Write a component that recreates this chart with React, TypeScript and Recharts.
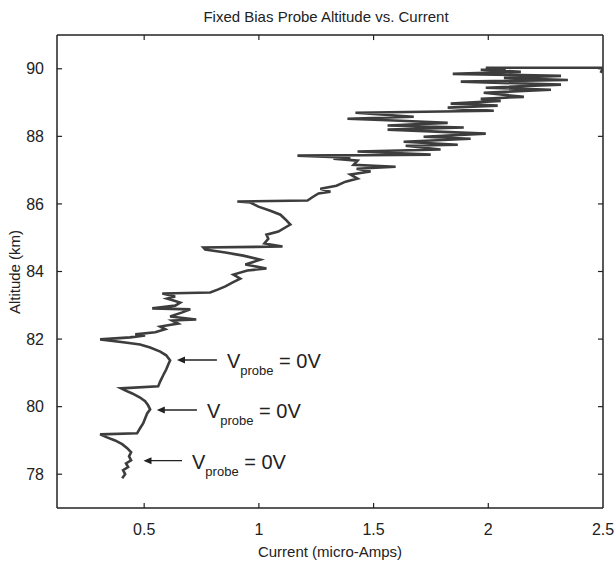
import React from 'react';
import { LineChart, Line, XAxis, YAxis, ReferenceLine } from 'recharts';

// probe trace (current in micro-amps, altitude in km)
const CURRENT = [
  0.404, 0.417, 0.408, 0.43, 0.421, 0.443, 0.434, 0.443, 0.426, 0.404, 0.373, 0.338, 0.308,
  0.469, 0.482, 0.496, 0.504, 0.513, 0.526, 0.517, 0.504, 0.482, 0.448, 0.417, 0.399,
  0.561, 0.57, 0.583, 0.596, 0.605, 0.613, 0.596, 0.57, 0.526, 0.482, 0.417, 0.308,
  0.439, 0.504, 0.461, 0.548, 0.592, 0.57, 0.648, 0.622, 0.727, 0.613, 0.666, 0.701, 0.535,
  0.635, 0.657, 0.6, 0.635, 0.579, 0.788, 0.823, 0.854, 0.884, 0.919, 0.889, 0.95, 1.033,
  0.941, 1.006, 0.932, 0.854, 0.766, 0.758, 1.103, 1.024, 1.041, 1.033, 1.085, 1.137, 1.116,
  1.094, 1.05, 0.998, 0.963, 0.906, 1.212, 1.238, 1.26, 1.312, 1.268, 1.338, 1.378, 1.43,
  1.399, 1.487, 1.426, 1.596, 1.413, 1.43, 1.325, 1.399, 1.168, 1.749, 1.43, 1.792, 1.64,
  1.867, 1.631, 1.923, 1.718, 1.989, 1.561, 1.893, 1.561, 1.823, 1.618, 1.386, 1.675, 1.421,
  2.024, 1.823, 2.041, 1.836, 2.054, 1.967, 2.155, 1.98, 2.273, 1.989, 2.317, 1.88, 2.347,
  2.068, 2.317, 1.845, 2.142, 1.967, 2.076, 1.989, 2.5, 2.49,
];
const ALTITUDE = [
  77.88, 78.0, 78.12, 78.21, 78.32, 78.41, 78.53, 78.65, 78.77, 78.89, 79.0, 79.09, 79.18,
  79.21, 79.36, 79.51, 79.65, 79.8, 79.92, 80.04, 80.16, 80.27, 80.39, 80.48, 80.54,
  80.6, 80.75, 80.93, 81.1, 81.25, 81.37, 81.52, 81.63, 81.75, 81.84, 81.9, 81.99,
  82.05, 82.11, 82.14, 82.2, 82.29, 82.37, 82.46, 82.55, 82.58, 82.67, 82.79, 82.88, 82.91,
  82.99, 83.08, 83.2, 83.26, 83.35, 83.38, 83.47, 83.56, 83.67, 83.79, 83.91, 84.03, 84.09,
  84.21, 84.35, 84.47, 84.56, 84.65, 84.71, 84.74, 84.83, 84.97, 85.09, 85.18, 85.39, 85.54,
  85.68, 85.8, 85.92, 86.04, 86.07, 86.1, 86.22, 86.31, 86.36, 86.45, 86.54, 86.66, 86.75,
  86.87, 86.96, 87.04, 87.1, 87.16, 87.28, 87.34, 87.37, 87.43, 87.46, 87.55, 87.61, 87.72,
  87.75, 87.84, 87.93, 87.99, 88.08, 88.2, 88.26, 88.32, 88.4, 88.46, 88.52, 88.58, 88.7,
  88.76, 88.85, 88.91, 88.97, 89.05, 89.11, 89.17, 89.29, 89.38, 89.44, 89.53, 89.62, 89.67,
  89.73, 89.79, 89.85, 89.91, 89.97, 90.0, 90.03, 90.03, 89.88,
];

const X_TICKS = [0.5, 1, 1.5, 2, 2.5];
const Y_TICKS = [78, 80, 82, 84, 86, 88, 90];

// arrows for the three "V probe = 0V" notes: [altitude, tail current, head current]
const NOTE_ALT = [81.38, 79.9, 78.4];
const NOTE_TAIL = [0.817, 0.73, 0.665];
const NOTE_HEAD = [0.643, 0.555, 0.497];

const X_MIN = 0.12;
const X_MAX = 2.5;
const Y_MIN = 77;
const Y_MAX = 91;

const FONT = '"Liberation Sans Narrow", "Liberation Sans", Arial, sans-serif';
const INK = '#222';

const data = CURRENT.map((c, i) => ({ c, a: ALTITUDE[i] }));

const NoteArrow = (props: any) => {
  const { x1, y1, x2, y2 } = props;
  const dir = x2 < x1 ? -1 : 1;
  return (
    <g>
      <line x1={x1} y1={y1} x2={x2 - dir * 6} y2={y2} stroke={INK} strokeWidth={1.3} />
      <path d={`M${x2},${y2} L${x2 - dir * 8},${y2 - 3.5} L${x2 - dir * 8},${y2 + 3.5} Z`} fill={INK} />
      <text x={x1 + 10} y={y1 + 8} fontFamily={FONT} fontSize={20} fill={INK}>
        V
        <tspan fontSize={13} dy={7}>probe</tspan>
        <tspan fontSize={20} dy={-7}> = 0V</tspan>
      </text>
    </g>
  );
};

export default function App() {
  return (
    <div style={{ position: 'absolute', left: 0, top: 0, width: 616, height: 562, background: '#fff' }}>
      <LineChart
        width={616}
        height={562}
        data={data}
        margin={{ top: 35, right: 13, left: 7, bottom: 14 }}
      >
        <XAxis
          type="number"
          dataKey="c"
          domain={[X_MIN, X_MAX]}
          ticks={X_TICKS}
          allowDataOverflow
          tickLine={false}
          tickSize={6}
          tickMargin={10}
          height={40}
          axisLine={{ stroke: INK, strokeWidth: 1.5 }}
          tick={{ fontSize: 16, fill: INK, fontFamily: FONT }}
          tickFormatter={(v: number) => String(v)}
        />
        <YAxis
          type="number"
          dataKey="a"
          domain={[Y_MIN, Y_MAX]}
          ticks={Y_TICKS}
          allowDataOverflow
          tickLine={false}
          tickSize={6}
          tickMargin={7}
          width={50}
          axisLine={{ stroke: INK, strokeWidth: 1.5 }}
          tick={{ fontSize: 16, fill: INK, fontFamily: FONT }}
        />
        <ReferenceLine y={Y_MAX} stroke={INK} strokeWidth={1.5} />
        <ReferenceLine x={X_MAX} stroke={INK} strokeWidth={1.5} />
        {X_TICKS.filter((t) => t < X_MAX).map((t) => (
          <ReferenceLine key={`xb${t}`} segment={[{ x: t, y: Y_MIN }, { x: t, y: Y_MIN + 0.15 }]} stroke={INK} strokeWidth={1.2} />
        ))}
        {X_TICKS.filter((t) => t < X_MAX).map((t) => (
          <ReferenceLine key={`xt${t}`} segment={[{ x: t, y: Y_MAX }, { x: t, y: Y_MAX - 0.15 }]} stroke={INK} strokeWidth={1.2} />
        ))}
        {Y_TICKS.map((t) => (
          <ReferenceLine key={`yl${t}`} segment={[{ x: X_MIN, y: t }, { x: X_MIN + 0.022, y: t }]} stroke={INK} strokeWidth={1.2} />
        ))}
        {Y_TICKS.map((t) => (
          <ReferenceLine key={`yr${t}`} segment={[{ x: X_MAX, y: t }, { x: X_MAX - 0.022, y: t }]} stroke={INK} strokeWidth={1.2} />
        ))}
        <Line
          type="linear"
          dataKey="a"
          stroke="#3d3d3d"
          strokeWidth={2.6}
          dot={false}
          isAnimationActive={false}
        />
        {NOTE_ALT.map((alt, i) => (
          <ReferenceLine
            key={`note${i}`}
            segment={[{ x: NOTE_TAIL[i], y: alt }, { x: NOTE_HEAD[i], y: alt }]}
            shape={NoteArrow}
          />
        ))}
      </LineChart>
      <svg
        width={616}
        height={562}
        style={{ position: 'absolute', left: 0, top: 0, pointerEvents: 'none' }}
      >
        <text x={326} y={22} textAnchor="middle" fontFamily={FONT} fontSize={15} fill={INK}>
          Fixed Bias Probe Altitude vs. Current
        </text>
        <text x={330} y={557} textAnchor="middle" fontFamily={FONT} fontSize={15} fill={INK}>
          Current (micro-Amps)
        </text>
        <text
          x={0}
          y={0}
          transform="translate(20 272) rotate(-90)"
          textAnchor="middle"
          fontFamily={FONT}
          fontSize={15}
          fill={INK}
        >
          Altitude (km)
        </text>
      </svg>
    </div>
  );
}
